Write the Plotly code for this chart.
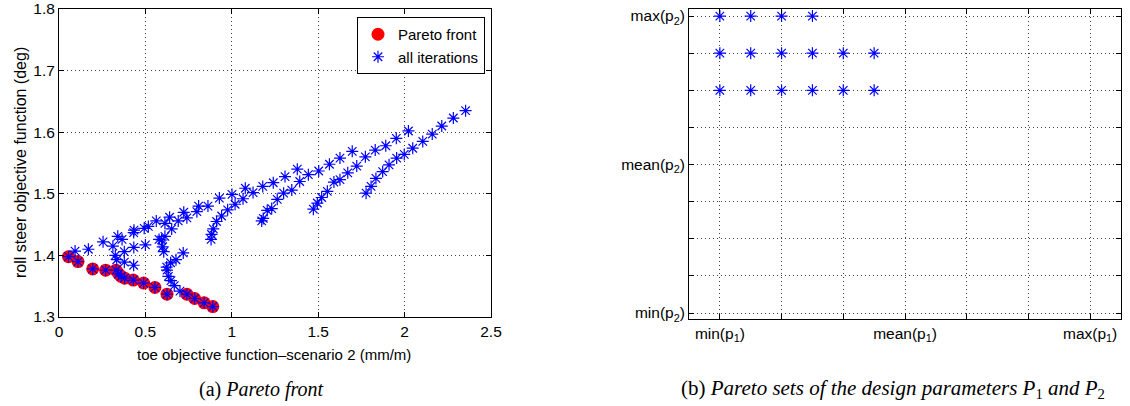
import plotly.graph_objects as go

W, H = 1130, 406

# ---------------- data ----------------
pareto_toe = [0.055, 0.110, 0.195, 0.270, 0.330, 0.345, 0.360, 0.380,
              0.430, 0.490, 0.555, 0.625, 0.740, 0.785, 0.840, 0.890]
pareto_roll = [1.398, 1.390, 1.378, 1.376, 1.376, 1.370, 1.366, 1.363,
               1.360, 1.355, 1.348, 1.337, 1.337, 1.330, 1.323, 1.317]

other_toe = [
    0.093, 0.170, 0.255, 0.312, 0.326, 0.334, 0.340, 0.365, 0.378, 0.378,
    0.432, 0.434, 0.433, 0.432, 0.493, 0.500, 0.517, 0.563, 0.579, 0.613,
    0.640, 0.690, 0.722, 0.740, 0.798, 0.808, 0.862, 0.928, 1.001, 1.078,
    1.123, 1.179, 1.240, 1.308, 1.379, 1.443, 1.503, 1.565, 1.626, 1.697,
    1.773, 1.830, 1.891, 1.952, 2.022,
    0.594, 0.600, 0.606, 0.613, 0.652, 0.623, 0.646, 0.677, 0.719, 0.625,
    0.633, 0.648, 0.667, 0.700,
    0.880, 0.883, 0.893, 0.912, 0.941, 0.976, 1.019, 1.065,
    1.173, 1.182, 1.205, 1.231, 1.263, 1.300, 1.347, 1.393,
    1.472, 1.495, 1.520, 1.553, 1.591, 1.626, 1.671, 1.723,
    1.777, 1.806, 1.834, 1.873, 1.910, 1.954, 1.998, 2.047, 2.105, 2.160,
    2.215, 2.282, 2.353,
]
other_roll = [
    1.407, 1.410, 1.422, 1.415, 1.400, 1.393, 1.431, 1.426, 1.406, 1.389,
    1.437, 1.441, 1.413, 1.384, 1.444, 1.417, 1.447, 1.456, 1.426, 1.452,
    1.462, 1.456, 1.470, 1.461, 1.471, 1.480, 1.480, 1.493, 1.499, 1.509,
    1.502, 1.512, 1.518, 1.528, 1.540, 1.531, 1.537, 1.548, 1.558, 1.569,
    1.560, 1.571, 1.578, 1.590, 1.602,
    1.425, 1.414, 1.406, 1.431, 1.443, 1.381, 1.388, 1.393, 1.404, 1.376,
    1.366, 1.359, 1.351, 1.342,
    1.426, 1.434, 1.443, 1.455, 1.464, 1.474, 1.483, 1.492,
    1.456, 1.460, 1.473, 1.476, 1.491, 1.501, 1.506, 1.520,
    1.475, 1.485, 1.494, 1.504, 1.519, 1.523, 1.534, 1.545,
    1.501, 1.512, 1.525, 1.536, 1.547, 1.558, 1.564, 1.574, 1.585, 1.597,
    1.610, 1.623, 1.635,
]

# Pareto sets in grid units (min=0, mean=3, max=6 for p1; min=0, mean=4, max=8 for p2)
set_p1 = [0, 0.5, 1, 1.5,
          0, 0.5, 1, 1.5, 2, 2.5,
          0, 0.5, 1, 1.5, 2, 2.5]
set_p2 = [8, 8, 8, 8,
          7, 7, 7, 7, 7, 7,
          6, 6, 6, 6, 6, 6]
p1_tickvals = [0, 3, 6]
p1_ticktext = ["min(p<sub>1</sub>)", "mean(p<sub>1</sub>)", "max(p<sub>1</sub>)"]
p1_minorvals = [1, 2, 4, 5]
p2_tickvals = [0, 4, 8]
p2_ticktext = ["min(p<sub>2</sub>)", "mean(p<sub>2</sub>)", "max(p<sub>2</sub>)"]
p2_minorvals = [1, 2, 3, 5, 6, 7]

# ---------------- figure ----------------
SANS = "Liberation Sans, Arial, sans-serif"
SERIF = "Liberation Serif, Times New Roman, serif"
GRID = "rgba(0,0,0,0.75)"
GDASH = "1px,3px"


def px(x):
    return x / W


def py(y):
    return 1 - y / H


fig = go.Figure()

fig.add_trace(go.Scatter(
    x=pareto_toe, y=pareto_roll, mode="markers", name="Pareto front",
    marker=dict(symbol="circle", size=13, color="#ff0000", line=dict(width=0)),
    xaxis="x", yaxis="y"))

fig.add_trace(go.Scatter(
    x=pareto_toe + other_toe, y=pareto_roll + other_roll, mode="markers",
    name="all iterations",
    marker=dict(symbol="asterisk-open", size=10, color="#0000ff",
                line=dict(width=1.2, color="#0000ff")),
    xaxis="x", yaxis="y"))

fig.add_trace(go.Scatter(
    x=set_p1, y=set_p2, mode="markers", showlegend=False,
    marker=dict(symbol="asterisk-open", size=10, color="#0000ff",
                line=dict(width=1.2, color="#0000ff")),
    xaxis="x2", yaxis="y2"))

axis_common = dict(
    showline=True, linecolor="black", linewidth=1, mirror="ticks",
    ticks="inside", ticklen=5, tickcolor="black", tickwidth=1,
    showgrid=True, gridcolor=GRID, gridwidth=1, griddash=GDASH,
    zeroline=False, automargin=False,
    tickfont=dict(family=SANS, size=15.5, color="black"),
)
minor_common = dict(ticks="inside", ticklen=5, tickcolor="black", tickwidth=1,
                    showgrid=True, gridcolor=GRID, gridwidth=1, griddash=GDASH)

fig.update_layout(
    width=W, height=H, margin=dict(l=0, r=0, t=0, b=0, autoexpand=False),
    paper_bgcolor="white", plot_bgcolor="white",
    xaxis=dict(domain=[px(59), px(491)], range=[0, 2.5], tick0=0, dtick=0.5,
               anchor="y", **axis_common),
    yaxis=dict(domain=[py(317), py(9)], range=[1.3, 1.8], tick0=1.3, dtick=0.1,
               tickformat=".1f", anchor="x", **axis_common),
    xaxis2=dict(domain=[px(689), px(1121)], range=[-0.5, 6.5],
                tickmode="array", tickvals=p1_tickvals, ticktext=p1_ticktext,
                minor=dict(tickmode="array", tickvals=p1_minorvals, **minor_common),
                anchor="y2", **axis_common),
    yaxis2=dict(domain=[py(319), py(9)], range=[-0.16, 8.19],
                tickmode="array", tickvals=p2_tickvals, ticktext=p2_ticktext,
                minor=dict(tickmode="array", tickvals=p2_minorvals, **minor_common),
                anchor="x2", **axis_common),
    legend=dict(x=px(485), xanchor="right", y=py(17), yanchor="top",
                bgcolor="white", bordercolor="black", borderwidth=1,
                font=dict(family=SANS, size=15, color="black"),
                tracegroupgap=0, itemsizing="trace"),
    annotations=[
        dict(text="toe objective function\u2013scenario 2 (mm/m)",
             x=px(274), y=py(354), xref="paper", yref="paper",
             showarrow=False, xanchor="center", yanchor="middle",
             font=dict(family=SANS, size=15, color="black")),
        dict(text="roll steer objective function (deg)",
             x=px(20), y=py(163), xref="paper", yref="paper", textangle=-90,
             showarrow=False, xanchor="center", yanchor="middle",
             font=dict(family=SANS, size=16, color="black")),
        dict(text="(a) <i>Pareto front</i>",
             x=px(261), y=py(389), xref="paper", yref="paper",
             showarrow=False, xanchor="center", yanchor="middle",
             font=dict(family=SERIF, size=20, color="black")),
        dict(text="(b) <i>Pareto sets of the design parameters P</i><sub>1</sub><i> and P</i><sub>2</sub>",
             x=px(893), y=py(389), xref="paper", yref="paper",
             showarrow=False, xanchor="center", yanchor="middle",
             font=dict(family=SERIF, size=21, color="black")),
    ],
)

fig.write_html("out.html")
